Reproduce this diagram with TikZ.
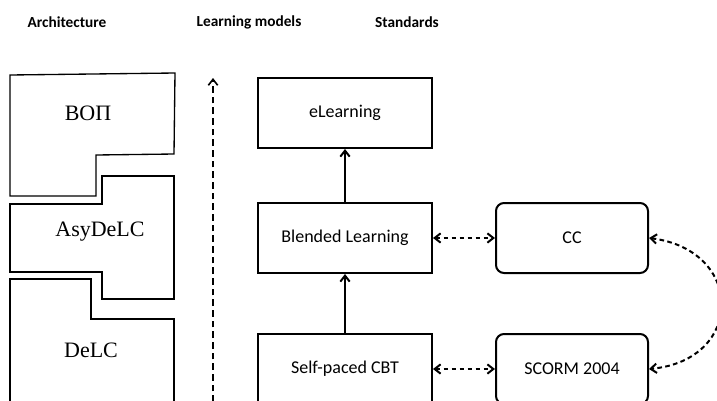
\documentclass[tikz,border=0pt]{standalone}
\usepackage{fontspec}
\setmainfont{Liberation Serif}
\newfontfamily\calfont{Carlito}
\usetikzlibrary{arrows.meta}

\tikzset{every picture/.style={line width=1pt}}
\tikzset{
  header/.style={font=\calfont\bfseries\fontsize{11.5}{13}\selectfont, inner sep=0.75pt},
  archtext/.style={font=\fontsize{16.5}{19}\selectfont, inner sep=0.75pt},
  modelbox/.style={draw, line width=1.5pt, minimum width=130.5pt, minimum height=52.5pt,
    font=\calfont\fontsize{13.5}{16}\selectfont},
  stdbox/.style={modelbox, rounded corners=6pt, minimum width=114pt},
  tip/.style={-{Straight Barb[length=4.5pt,width=7pt]}},
  dtip/.style={{Straight Barb[length=4.5pt,width=7pt]}-{Straight Barb[length=4.5pt,width=7pt]}, dash pattern=on 3.5pt off 2.5pt}
}

\begin{document}
\begin{tikzpicture}[x=0.75pt,y=0.75pt,yscale=-1,xscale=1]
\clip (0,0) rectangle (717,400);

% Headers
\node [header] (harch) at (67,22) {Architecture};
\node [header] (hmod) at (249,22) {Learning models};
\node [header] (hstd) at (407,22) {Standards};

% Architecture layers
\draw (10,75) -- (175,73) -- (174,154) -- (96,155) -- (96,196) -- (10,196) -- cycle ;
\node [archtext] (bop) at (88,113) {ВОП};
\draw (10,204) -- (102,204) -- (102,176) -- (174,176) -- (174,299) -- (102,299) -- (102,272) -- (10,272) -- cycle ;
\node [archtext] (asydelc) at (100,232) {AsyDeLC};
\draw (10,410) -- (10,279) -- (91,279) -- (91,319) -- (174,319) -- (174,410) ;
\node [archtext] (delc) at (91,350) {DeLC};

% Vertical arrow
\coordinate (vbot) at (213,402);
\coordinate (vtop) at (213,78);
\draw [tip, line width=1.2pt, dash pattern=on 5pt off 3pt] (vbot) -- (vtop) ;

% Learning models
\node [modelbox] (elearn) at (345,113) {eLearning};
\node [modelbox] (blend) at (345,238) {Blended Learning};
\node [modelbox] (cbt) at (345,369) {Self-paced CBT};

% Standards
\node [stdbox] (cc) at (572,238) {CC};
\node [stdbox] (scorm) at (572,369) {SCORM 2004};

% Connection
\draw [tip, line width=1.5pt] (blend) -- (elearn) ;
\draw [tip, line width=1.5pt] (cbt) -- (blend) ;
\draw [dtip, line width=1.5pt] (blend) -- (cc) ;
\draw [dtip, line width=1.5pt] (cbt) -- (scorm) ;
\draw [dtip, line width=1.5pt] (cc.east) .. controls (745,250) and (745,360) .. (scorm.east) ;

\end{tikzpicture}
\end{document}
